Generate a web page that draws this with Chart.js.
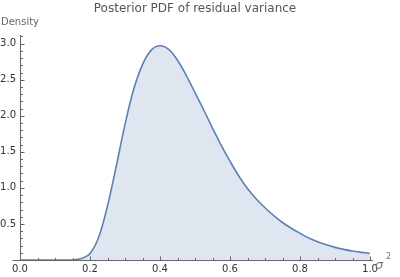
<!DOCTYPE html>
<html>
<head>
<meta charset="utf-8">
<script src="https://cdn.jsdelivr.net/npm/chart.js@4/dist/chart.umd.min.js"></script>
<style>
  html, body { margin: 0; padding: 0; background: #fff; }
  #wrap { width: 400px; height: 277px; }
</style>
</head>
<body>
<div id="wrap"><canvas id="ch"></canvas></div>
<script>
// values
const sigma2 = [0, 0.05, 0.1, 0.125, 0.15, 0.175, 0.2, 0.225, 0.25, 0.275, 0.3, 0.325, 0.35, 0.375, 0.4,
  0.425, 0.45, 0.475, 0.5, 0.525, 0.55, 0.575, 0.6, 0.625, 0.65, 0.675, 0.7, 0.725, 0.75, 0.775,
  0.8, 0.825, 0.85, 0.875, 0.9, 0.925, 0.95, 0.975, 1.0];
const density = [0, 0, 0, 0, 0.002, 0.02, 0.09, 0.32, 0.75, 1.30, 1.88, 2.37, 2.71, 2.91, 2.97,
  2.92, 2.77, 2.56, 2.32, 2.08, 1.83, 1.59, 1.37, 1.165, 0.99, 0.845, 0.725, 0.615, 0.52, 0.44,
  0.37, 0.305, 0.253, 0.21, 0.175, 0.147, 0.124, 0.106, 0.093];
const xTicks = [0, 0.2, 0.4, 0.6, 0.8, 1.0];
const yTicks = [0.5, 1.0, 1.5, 2.0, 2.5, 3.0];

const titleText = "Posterior PDF of residual variance";
const axisColor = "#666";

// Mathematica-style axes: ticks pointing inwards, minor ticks in between
const axesPlugin = {
  id: "axes",
  afterDatasetsDraw(chart) {
    const { ctx, scales: { x, y } } = chart;
    const x0 = Math.round(x.getPixelForValue(0)) + 0.5;
    const y0 = Math.round(y.getPixelForValue(0)) + 0.5;
    ctx.save();
    ctx.strokeStyle = axisColor;
    ctx.lineWidth = 1;
    ctx.beginPath();
    ctx.moveTo(x0 - 8, y0); ctx.lineTo(x.right + 3, y0);
    ctx.moveTo(x0, y0); ctx.lineTo(x0, y.top);
    for (let i = 1; i <= 20; i++) {
      const px = Math.round(x.getPixelForValue(i * 0.05)) + 0.5;
      const len = i % 4 === 0 ? 4 : 2.5;
      ctx.moveTo(px, y0); ctx.lineTo(px, y0 - len);
    }
    for (let i = 1; i <= 31; i++) {
      const py = Math.round(y.getPixelForValue(i * 0.1)) + 0.5;
      const len = i % 5 === 0 ? 4 : 2.5;
      ctx.moveTo(x0, py); ctx.lineTo(x0 + len, py);
    }
    ctx.stroke();

    // title, axis labels
    ctx.fillStyle = "#555";
    ctx.font = "12px 'DejaVu Sans'";
    ctx.textAlign = "center";
    ctx.textBaseline = "middle";
    ctx.fillText(titleText, (x.left + x.right) / 2, 9);
    ctx.fillStyle = "#666";
    ctx.font = "10px 'DejaVu Sans'";
    ctx.textAlign = "left";
    ctx.fillText("Density", 1, 22);
    ctx.fillStyle = "#777";
    ctx.font = "italic 13px 'DejaVu Sans'";
    ctx.fillText("σ", x.right + 5, y0 + 5);
    ctx.font = "8px 'DejaVu Sans'";
    ctx.fillText("2", x.right + 16, y0 - 4);
    ctx.restore();
  }
};

new Chart(document.getElementById("ch"), {
  type: "line",
  data: {
    datasets: [{
      data: sigma2.map((s, i) => ({ x: s, y: density[i] })),
      borderColor: "#5E81B5",
      backgroundColor: "rgba(94,129,181,0.2)",
      borderWidth: 1.6,
      pointRadius: 0,
      fill: "origin",
      tension: 0.35
    }]
  },
  options: {
    responsive: true,
    maintainAspectRatio: false,
    animation: false,
    layout: { padding: { top: 35, right: 30, left: 0, bottom: 0 } },
    plugins: { legend: { display: false }, tooltip: { enabled: false } },
    scales: {
      x: {
        type: "linear",
        min: 0,
        max: 1,
        afterFit(s) { s.height = 17; },
        afterBuildTicks(s) { s.ticks = xTicks.map(v => ({ value: v })); },
        grid: { display: false, drawTicks: false },
        border: { display: false },
        ticks: {
          padding: 3,
          color: "#333",
          font: { family: "DejaVu Sans", size: 10 },
          maxRotation: 0,
          callback: v => v.toFixed(1)
        }
      },
      y: {
        min: 0,
        max: 3.12,
        afterFit(s) { s.width = 20; },
        afterBuildTicks(s) { s.ticks = yTicks.map(v => ({ value: v })); },
        grid: { display: false, drawTicks: false },
        border: { display: false },
        ticks: {
          padding: 4,
          color: "#333",
          font: { family: "DejaVu Sans", size: 10 },
          callback: v => v.toFixed(1)
        }
      }
    }
  },
  plugins: [axesPlugin]
});
</script>
</body>
</html>
